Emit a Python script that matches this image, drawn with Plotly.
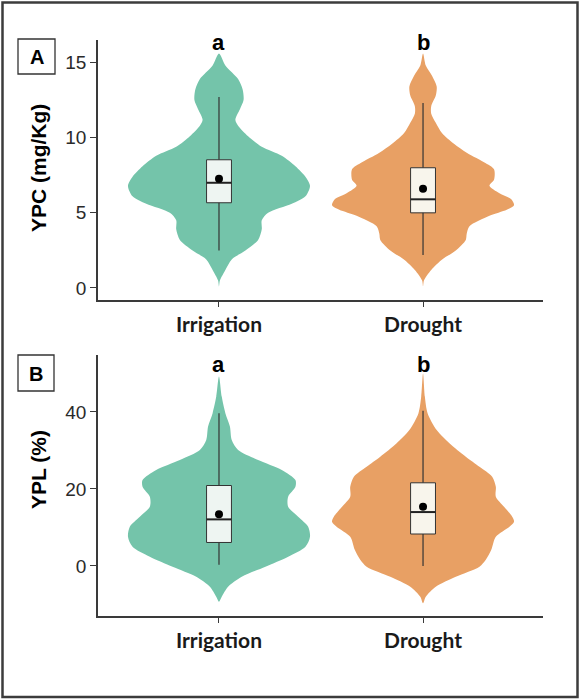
import plotly.graph_objects as go

W, H = 582, 700

groups = ["Irrigation", "Drought"]
violin_colors = ["#74C4AA", "#E8A064"]
box_fills = ["#EEF5F2", "#F8F5EC"]
letters_A = ["a", "b"]
letters_B = ["a", "b"]

# ---- Panel A: YPC (mg/Kg) violin density outlines (value, relative density) ----
ypc_irr_y = [0.1, 0.5, 1.2, 1.9, 2.5, 3.2, 3.9, 4.5, 5.0, 5.6, 6.1, 6.8, 7.4, 8.1, 8.8,
             9.4, 10.1, 10.8, 11.2, 11.9, 12.5, 13.2, 13.9, 14.8, 15.6]
ypc_irr_d = [0, 0.01, 0.07, 0.14, 0.29, 0.43, 0.47, 0.47, 0.54, 0.80, 0.95, 1.0, 0.95, 0.84, 0.69,
             0.47, 0.32, 0.21, 0.18, 0.23, 0.27, 0.26, 0.21, 0.07, 0]
ypc_dro_y = [0.1, 0.5, 1.2, 1.9, 2.5, 3.2, 3.6, 4.1, 4.8, 5.2, 5.5, 5.9, 6.3, 6.8, 7.2, 7.9,
             8.3, 9.0, 9.6, 10.3, 11.0, 11.6, 12.1, 12.8, 13.4, 14.1, 14.8, 15.6]
ypc_dro_d = [0, 0.01, 0.09, 0.21, 0.36, 0.47, 0.48, 0.51, 0.73, 0.92, 1.0, 0.97, 0.84, 0.73, 0.78, 0.78,
             0.69, 0.48, 0.34, 0.21, 0.14, 0.09, 0.09, 0.14, 0.15, 0.10, 0.03, 0]

# box statistics (Irrigation, Drought)
ypc_q1 = [5.67, 5.0]
ypc_med = [7.0, 5.9]
ypc_q3 = [8.53, 8.0]
ypc_lo = [2.5, 2.2]
ypc_hi = [12.7, 12.3]
ypc_mean = [7.27, 6.6]

# ---- Panel B: YPL (%) ----
ypl_irr_y = [-9.3, -8.0, -5.4, -2.8, -0.2, 2.4, 5.0, 7.6, 10.2, 12.8, 15.4, 18.0, 20.6, 22.3,
             24.9, 27.5, 30.1, 32.7, 36.2, 39.7, 44.0, 49.2]
ypl_irr_d = [0, 0.03, 0.10, 0.25, 0.51, 0.76, 0.95, 1.0, 0.98, 0.87, 0.76, 0.76, 0.84, 0.84,
             0.69, 0.43, 0.21, 0.14, 0.12, 0.07, 0.03, 0]
ypl_dro_y = [-9.7, -8.0, -5.4, -2.8, -0.2, 1.6, 4.2, 7.6, 10.2, 11.5, 12.8, 15.4, 18.0, 20.6,
             23.2, 25.8, 28.4, 31.9, 35.3, 39.7, 44.0, 50.0]
ypl_dro_d = [0, 0.03, 0.14, 0.36, 0.62, 0.69, 0.75, 0.80, 0.95, 1.0, 0.98, 0.89, 0.80, 0.80,
             0.76, 0.62, 0.47, 0.29, 0.15, 0.05, 0.02, 0]

ypl_q1 = [6.1, 8.3]
ypl_med = [12.1, 14.0]
ypl_q3 = [20.9, 21.6]
ypl_lo = [0.3, 0.0]
ypl_hi = [39.7, 40.3]
ypl_mean = [13.4, 15.4]

VIOLIN_HALF = 0.446
BOX_W = 0.122
LINE_C = "#333333"

fig = go.Figure()


def add_violin(cx, ys, ds, color, xa, ya):
    xr = [cx + VIOLIN_HALF * d for d in ds]
    xl = [cx - VIOLIN_HALF * d for d in ds]
    xs = xr + xl[::-1][1:]
    yy = list(ys) + list(ys)[::-1][1:]
    fig.add_trace(go.Scatter(x=xs, y=yy, mode="lines", fill="toself", fillcolor=color,
                             line=dict(width=0, color=color, shape="spline", smoothing=0.8),
                             hoverinfo="skip", showlegend=False, xaxis=xa, yaxis=ya))


def add_box(i, q1, med, q3, lo, hi, mn, xa, ya):
    h = BOX_W / 2
    # whiskers
    fig.add_trace(go.Scatter(x=[i, i], y=[lo, hi], mode="lines",
                             line=dict(color=LINE_C, width=1.2), showlegend=False,
                             hoverinfo="skip", xaxis=xa, yaxis=ya))
    # box
    fig.add_trace(go.Scatter(x=[i - h, i + h, i + h, i - h, i - h], y=[q1, q1, q3, q3, q1],
                             mode="lines", fill="toself", fillcolor=box_fills[i],
                             line=dict(color=LINE_C, width=1), showlegend=False,
                             hoverinfo="skip", xaxis=xa, yaxis=ya))
    # median
    fig.add_trace(go.Scatter(x=[i - h, i + h], y=[med, med], mode="lines",
                             line=dict(color="#222222", width=2), showlegend=False,
                             hoverinfo="skip", xaxis=xa, yaxis=ya))
    # mean
    fig.add_trace(go.Scatter(x=[i], y=[mn], mode="markers",
                             marker=dict(color="black", size=8), showlegend=False,
                             xaxis=xa, yaxis=ya))


add_violin(0, ypc_irr_y, ypc_irr_d, violin_colors[0], "x", "y")
add_violin(1, ypc_dro_y, ypc_dro_d, violin_colors[1], "x", "y")
add_violin(0, ypl_irr_y, ypl_irr_d, violin_colors[0], "x2", "y2")
add_violin(1, ypl_dro_y, ypl_dro_d, violin_colors[1], "x2", "y2")
for i in range(2):
    add_box(i, ypc_q1[i], ypc_med[i], ypc_q3[i], ypc_lo[i], ypc_hi[i], ypc_mean[i], "x", "y")
    add_box(i, ypl_q1[i], ypl_med[i], ypl_q3[i], ypl_lo[i], ypl_hi[i], ypl_mean[i], "x2", "y2")


def px(xp):
    return xp / W


def py(yp):
    return 1 - yp / H


xdom = [px(98), px(543)]
axis_common = dict(showgrid=False, zeroline=False, showline=True, linecolor="#3a3a3a",
                   linewidth=1.5, ticks="outside", tickcolor="#3a3a3a", tickwidth=1.2)
xcommon = dict(axis_common, range=[-0.593, 1.588], tickvals=[0, 1], ticktext=groups, ticklen=5,
               tickfont=dict(family="Lato", size=21, color="#1a1a1a", weight="bold"))
ycommon = dict(axis_common, ticklen=6,
               tickfont=dict(family="Liberation Sans, Arial", size=19, color="#2a2a2a"))

fig.update_layout(
    width=W, height=H, margin=dict(l=0, r=0, t=0, b=0),
    paper_bgcolor="white", plot_bgcolor="white", showlegend=False,
    xaxis=dict(xcommon, domain=xdom, anchor="y"),
    yaxis=dict(ycommon, domain=[py(300), py(40)], range=[-0.8, 16.5], tickvals=[0, 5, 10, 15],
               anchor="x"),
    xaxis2=dict(xcommon, domain=xdom, anchor="y2"),
    yaxis2=dict(ycommon, domain=[py(616), py(355)], range=[-13, 54.8], tickvals=[0, 20, 40],
                anchor="x2"),
)

FONT_B = "Liberation Sans, Arial"
annots = []
for i in range(2):
    annots.append(dict(x=i, xref="x", y=py(43), yref="paper", text="<b>%s</b>" % letters_A[i],
                       xanchor="center", yanchor="middle", showarrow=False,
                       font=dict(family=FONT_B, size=22, color="black")))
    annots.append(dict(x=i, xref="x2", y=py(364), yref="paper", text="<b>%s</b>" % letters_B[i],
                       xanchor="center", yanchor="middle", showarrow=False,
                       font=dict(family=FONT_B, size=22, color="black")))
annots.append(dict(x=px(38), y=py(168), xref="paper", yref="paper", text="<b>YPC (mg/Kg)</b>",
                   textangle=-90, xanchor="center", yanchor="middle", showarrow=False,
                   font=dict(family=FONT_B, size=21, color="black")))
annots.append(dict(x=px(39), y=py(470), xref="paper", yref="paper", text="<b>YPL (%)</b>",
                   textangle=-90, xanchor="center", yanchor="middle", showarrow=False,
                   font=dict(family=FONT_B, size=21, color="black")))
annots.append(dict(x=px(36.5), y=py(57), xref="paper", yref="paper", text="<b>A</b>",
                   xanchor="center", yanchor="middle", showarrow=False,
                   font=dict(family=FONT_B, size=20, color="black")))
annots.append(dict(x=px(36), y=py(373.5), xref="paper", yref="paper", text="<b>B</b>",
                   xanchor="center", yanchor="middle", showarrow=False,
                   font=dict(family=FONT_B, size=20, color="black")))
fig.update_layout(annotations=annots)

shapes = [
    dict(type="rect", xref="paper", yref="paper", x0=px(18), x1=px(55), y0=py(74), y1=py(39),
         line=dict(color="#333333", width=1.3)),
    dict(type="rect", xref="paper", yref="paper", x0=px(18), x1=px(54), y0=py(391), y1=py(355),
         line=dict(color="#333333", width=1.3)),
    dict(type="rect", xref="paper", yref="paper", x0=px(2.5), x1=px(577.5), y0=py(697), y1=py(2.5),
         line=dict(color="#3c3c3c", width=2.5)),
]
fig.update_layout(shapes=shapes)

fig.write_html("out.html")
